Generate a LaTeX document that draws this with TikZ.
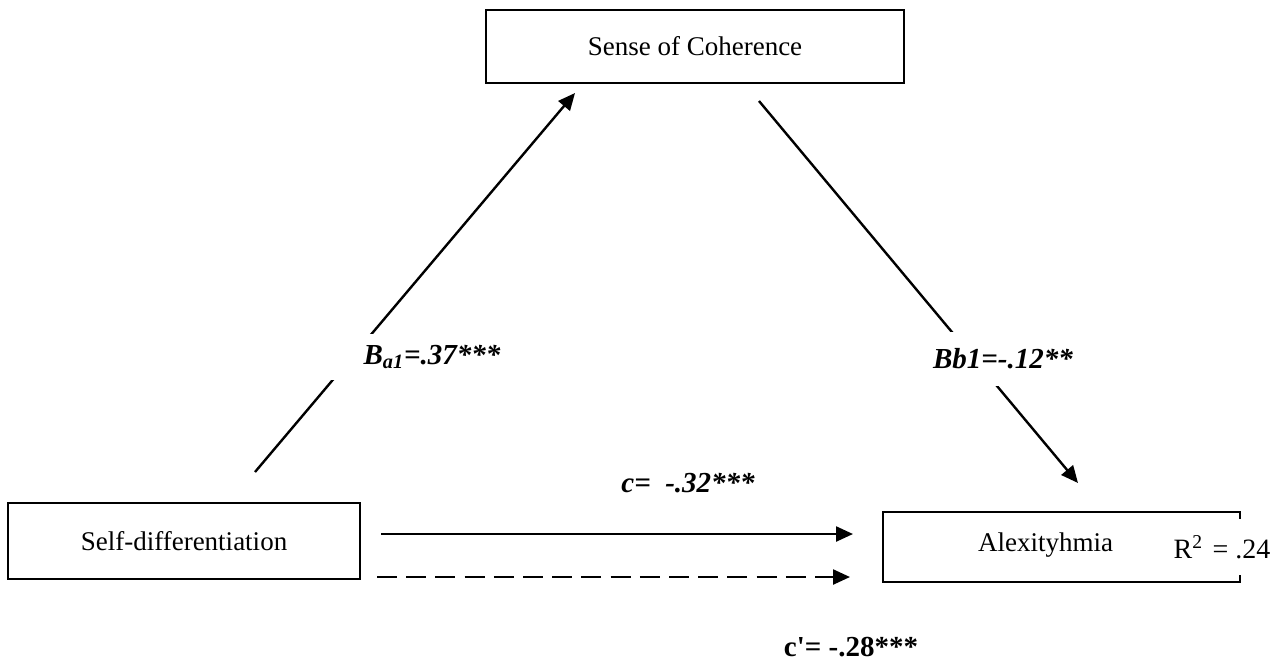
\documentclass[tikz,border=0pt]{standalone}
\usepackage{fontspec}
\setmainfont{Liberation Serif}
\usetikzlibrary{arrows.meta}
\tikzset{
  varbox/.style={draw,line width=1pt,inner sep=0pt,font=\fontsize{13.5}{16}\selectfont},
  pathlbl/.style={inner sep=1pt,font=\fontsize{14.5}{17}\selectfont\bfseries\itshape},
  patharrow/.style={line width=1.2pt,-{Triangle[length=8.5pt,width=7.5pt]}}
}

\begin{document}
\begin{tikzpicture}[x=0.5pt,y=-0.5pt]
  \useasboundingbox (0,0) rectangle (1285,661);
  \node[varbox,minimum width=209pt,minimum height=36.5pt] (soc) at (695,46.5) {Sense of Coherence};
  \node[varbox,minimum width=176pt,minimum height=38pt] (sd) at (184,541) {Self-differentiation};
  \node[varbox,minimum width=178.5pt,minimum height=35pt] (alex) at (1061.5,547) {};
  \node[font=\fontsize{13.5}{16}\selectfont] (alextxt) at (1045.5,545) {Alexityhmia};
  \node[fill=white,inner xsep=1pt,minimum height=28pt,font=\fontsize{14}{16}\selectfont] (rsq) at (1222,547) {R\textsuperscript{2}\,\,= .24};

  \coordinate (a1from) at (255,472);
  \coordinate (a1to) at (575,93);
  \coordinate (b1from) at (759,101);
  \coordinate (b1to) at (1078,483);
  \coordinate (cfrom) at (381,534);
  \coordinate (cto) at (853,534);
  \coordinate (cpfrom) at (377,577);
  \coordinate (cpto) at (850,577);

  \draw[patharrow] (a1from) -- (a1to);
  \draw[patharrow] (b1from) -- (b1to);
  \draw[patharrow] (cfrom) -- (cto);
  \draw[patharrow,dash pattern=on 10pt off 4.6pt] (cpfrom) -- (cpto);

  \node[pathlbl,fill=white,minimum width=105pt,minimum height=23pt] (a1lbl) at (432,357) {B\textsubscript{a1}=.37***};
  \node[pathlbl,fill=white,minimum height=27pt] (b1lbl) at (1003,359) {Bb1=-.12**};
  \node[pathlbl,anchor=west] (clbl) at (619,483) {c=~~-.32***};
  \node[pathlbl,font=\fontsize{14.5}{17}\selectfont\bfseries] (cplbl) at (851,647) {c\textquotesingle= -.28***};
\end{tikzpicture}
\end{document}
